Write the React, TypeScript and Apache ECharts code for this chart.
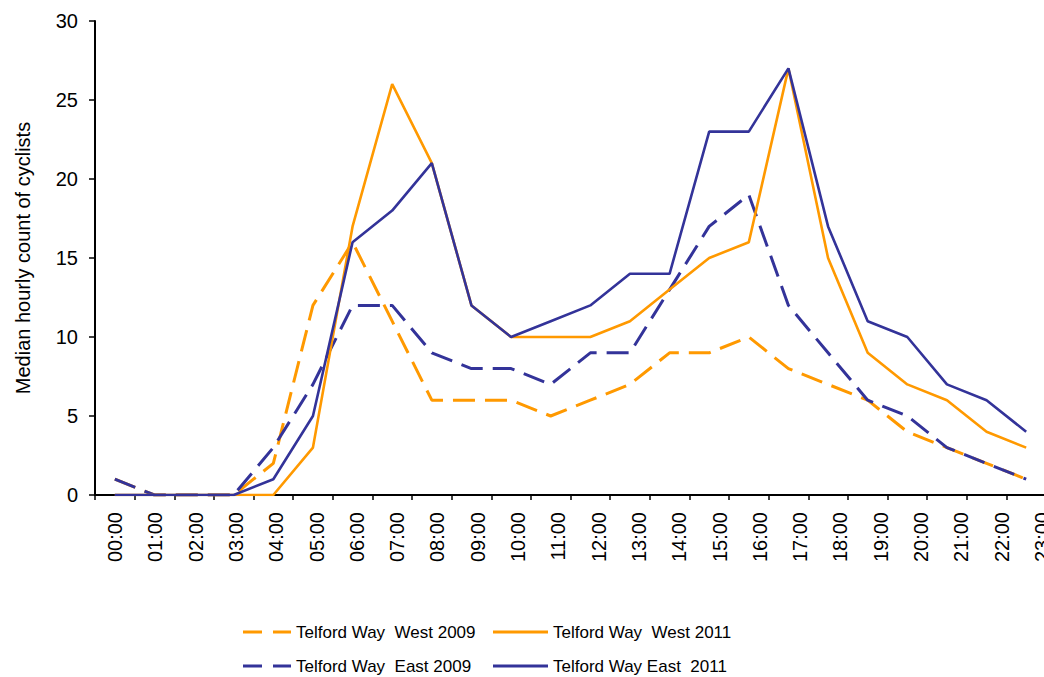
import React, { useEffect, useRef } from "react";
import * as echarts from "echarts";

const hours = [
  "00:00", "01:00", "02:00", "03:00", "04:00", "05:00", "06:00", "07:00",
  "08:00", "09:00", "10:00", "11:00", "12:00", "13:00", "14:00", "15:00",
  "16:00", "17:00", "18:00", "19:00", "20:00", "21:00", "22:00", "23:00",
];
const west2009 = [1, 0, 0, 0, 2, 12, 16, 11, 6, 6, 6, 5, 6, 7, 9, 9, 10, 8, 7, 6, 4, 3, 2, 1];
const west2011 = [0, 0, 0, 0, 0, 3, 17, 26, 21, 12, 10, 10, 10, 11, 13, 15, 16, 27, 15, 9, 7, 6, 4, 3];
const east2009 = [1, 0, 0, 0, 3, 7, 12, 12, 9, 8, 8, 7, 9, 9, 13, 17, 19, 12, 9, 6, 5, 3, 2, 1];
const east2011 = [0, 0, 0, 0, 1, 5, 16, 18, 21, 12, 10, 11, 12, 14, 14, 23, 23, 27, 17, 11, 10, 7, 6, 4];
const yTicks = { min: 0, max: 30, interval: 5 };

const names = {
  w09: "Telford Way  West 2009",
  w11: "Telford Way  West 2011",
  e09: "Telford Way  East 2009",
  e11: "Telford Way East  2011",
};

const ORANGE = "#FF9900";
const BLUE = "#333399";
const FONT = "'Liberation Sans', Arial, sans-serif";
const DASH_ICON = "path://M0,0h19v3h-19z M30,0h18v3h-18z";
const SOLID_ICON = "path://M0,0h55v3h-55z";

export default function App() {
  const ref = useRef<HTMLDivElement>(null);
  useEffect(() => {
    if (!ref.current) return;
    const chart = echarts.init(ref.current, null, { renderer: "svg" });
    const dash = [22, 10];
    const mk = (name: string, data: number[], color: string, dashed: boolean) => ({
      name,
      type: "line",
      data,
      xAxisIndex: 0,
      yAxisIndex: 0,
      symbol: "none",
      showSymbol: false,
      color,
      z: dashed ? 3 : 4,
      lineStyle: { color, width: dashed ? 3 : 2.6, type: dashed ? dash : "solid" },
    });
    const legendText = { color: "#000", fontSize: 17, lineHeight: 20, fontFamily: FONT };
    chart.setOption({
      animation: false,
      textStyle: { fontFamily: FONT },
      grid: [
        { left: 95, top: 21, width: 951, height: 474 },
        { left: 95, top: 21, width: 967, height: 474 },
      ],
      xAxis: [
        {
          type: "category",
          gridIndex: 0,
          data: hours,
          boundaryGap: true,
          axisLine: { lineStyle: { color: "#000", width: 2 } },
          axisTick: { show: true, length: 5, lineStyle: { color: "#000", width: 1.5 } },
          axisLabel: { show: false },
        },
        {
          type: "category",
          gridIndex: 1,
          data: hours,
          boundaryGap: true,
          position: "bottom",
          axisLine: { show: false },
          axisTick: { show: false },
          axisLabel: {
            show: true,
            interval: 0,
            rotate: 90,
            margin: 17,
            color: "#000",
            fontSize: 20,
            fontFamily: FONT,
          },
        },
      ],
      yAxis: [
        {
          type: "value",
          gridIndex: 0,
          min: yTicks.min,
          max: yTicks.max,
          interval: yTicks.interval,
          name: "Median hourly count of cyclists",
          nameLocation: "middle",
          nameGap: 62,
          nameTextStyle: { color: "#000", fontSize: 20, fontFamily: FONT },
          axisLine: { show: true, lineStyle: { color: "#000", width: 2 } },
          axisTick: { show: true, length: 6, lineStyle: { color: "#000", width: 1.5 } },
          axisLabel: { color: "#000", fontSize: 20, margin: 17, fontFamily: FONT },
          splitLine: { show: false },
        },
        {
          type: "value",
          gridIndex: 1,
          min: 0,
          max: 30,
          show: false,
        },
      ],
      legend: [
        {
          data: [
            { name: names.w09, icon: DASH_ICON },
            { name: names.e09, icon: DASH_ICON },
          ],
          orient: "vertical",
          left: 243,
          top: 622,
          padding: 0,
          itemWidth: 48,
          itemHeight: 3,
          itemGap: 14,
          itemTextGap: 12,
          textStyle: legendText,
        },
        {
          data: [
            { name: names.w11, icon: SOLID_ICON },
            { name: names.e11, icon: SOLID_ICON },
          ],
          orient: "vertical",
          left: 493,
          top: 622,
          padding: 0,
          itemWidth: 55,
          itemHeight: 3,
          itemGap: 14,
          itemTextGap: 5,
          textStyle: legendText,
        },
      ],
      series: [
        mk(names.w09, west2009, ORANGE, true),
        mk(names.w11, west2011, ORANGE, false),
        mk(names.e09, east2009, BLUE, true),
        mk(names.e11, east2011, BLUE, false),
      ],
    });
    return () => chart.dispose();
  }, []);
  return (
    <div style={{ width: 1044, height: 677, position: "absolute", left: 0, top: 0, overflow: "hidden" }}>
      <div ref={ref} style={{ width: 1090, height: 677, position: "absolute", left: 0, top: 0 }} />
    </div>
  );
}
